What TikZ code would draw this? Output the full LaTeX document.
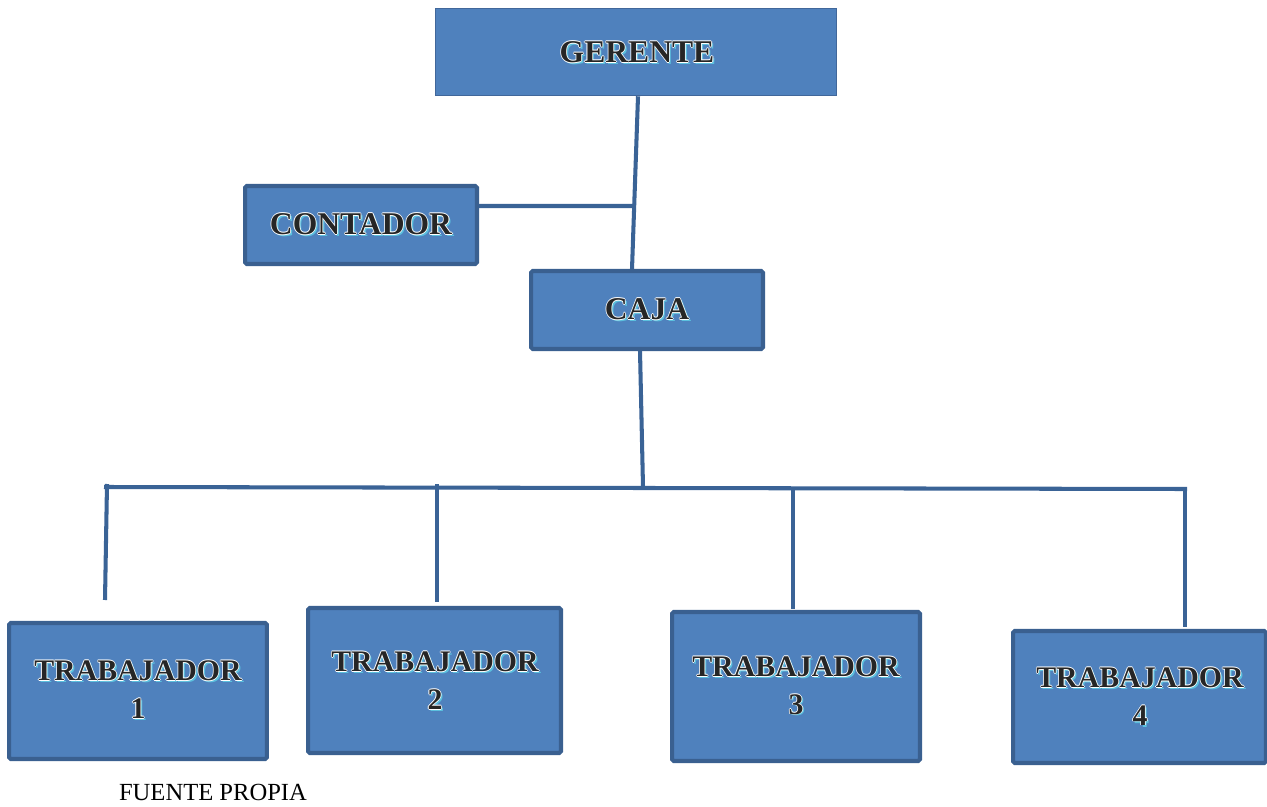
\documentclass[tikz,border=0pt]{standalone}
\usepackage{fontspec}
\setmainfont{Liberation Serif}
\definecolor{boxfill}{HTML}{4F81BD}
\definecolor{boxedge}{HTML}{3A6090}
\definecolor{thinedge}{HTML}{41679A}
\definecolor{linec}{HTML}{3A6396}
\definecolor{shadowc}{HTML}{5BC0DE}
\newcommand\glow[1]{\leavevmode\rlap{\kern1.1pt\raisebox{-1.1pt}{\textcolor{shadowc}{#1}}}%
\rlap{\kern0.45pt\textcolor{white}{#1}}\rlap{\kern-0.45pt\textcolor{white}{#1}}%
\rlap{\raisebox{0.45pt}{\textcolor{white}{#1}}}\rlap{\raisebox{-0.45pt}{\textcolor{white}{#1}}}%
\textcolor{black!85}{#1}}
\tikzset{
  boxthick/.style={draw=boxedge, fill=boxfill, line width=2.3pt, rounded corners=1pt, inner sep=0pt},
  boxthin/.style={draw=thinedge, fill=boxfill, line width=0.9pt, inner sep=0pt},
  lbl/.style={font=\bfseries\fontsize{17}{21.5}\selectfont, align=center, inner sep=0pt},
  conn/.style={draw=linec, line width=2.3pt},
}
\begin{document}
\begin{tikzpicture}[x=0.02cm, y=-0.02cm]
\useasboundingbox (0,0) rectangle (1267,807);
% boxes
\node[boxthin, minimum width=8.02cm, minimum height=1.74cm] (ger) at (636,52) {};
\node[boxthick, minimum width=4.64cm, minimum height=1.56cm] (cont) at (361,225) {};
\node[boxthick, minimum width=4.64cm, minimum height=1.56cm] (caja) at (647,310) {};
\node[boxthick, minimum width=5.16cm, minimum height=2.72cm] (t1) at (138,691) {};
\node[boxthick, minimum width=5.06cm, minimum height=2.90cm] (t2) at (434.5,680.5) {};
\node[boxthick, minimum width=4.96cm, minimum height=2.98cm] (t3) at (796,686.5) {};
\node[boxthick, minimum width=5.06cm, minimum height=2.64cm] (t4) at (1139.5,697) {};
% labels
\node[lbl, font=\bfseries\fontsize{18}{22}\selectfont] (lger) at (637,53) {\glow{GERENTE}};
\node[lbl, font=\bfseries\fontsize{18}{22}\selectfont] (lcont) at (cont.center) {\glow{CONTADOR}};
\node[lbl, font=\bfseries\fontsize{18}{22}\selectfont] (lcaja) at (caja.center) {\glow{CAJA}};
\node[lbl] (l1) at (138,690) {\glow{TRABAJADOR}\\\glow{1}};
\node[lbl] (l2) at (435,681) {\glow{TRABAJADOR}\\\glow{2}};
\node[lbl] (l3) at (796,686) {\glow{TRABAJADOR}\\\glow{3}};
\node[lbl] (l4) at (1140,697) {\glow{TRABAJADOR}\\\glow{4}};
\node[font=\fontsize{14}{16}\selectfont, inner sep=0pt] (src) at (213,792) {FUENTE PROPIA};
% connector points
\coordinate (j1) at (635,206);
\coordinate (busM) at (643,487);
\coordinate (busL) at (104,487);
\coordinate (busR) at (1187,489);
\coordinate (a1) at (107,484); \coordinate (d1) at (105,600);
\coordinate (a2) at (437,484); \coordinate (d2) at (437,602);
\coordinate (a3) at (793,489); \coordinate (d3) at (793,609);
\coordinate (a4) at (1185,487); \coordinate (d4) at (1185,627);
% connectors
\draw[conn] ([xshift=0.04cm]ger.south) -- ([xshift=-0.3cm]caja.north);
\draw[conn] ([yshift=0.38cm]cont.east) -- (j1);
\draw[conn] ([xshift=-0.14cm]caja.south) -- (busM);
\draw[conn] (busL) -- (busR);
\draw[conn] (a1) -- (d1);
\draw[conn] (a2) -- (d2);
\draw[conn] (a3) -- (d3);
\draw[conn] (a4) -- (d4);
\end{tikzpicture}
\end{document}
